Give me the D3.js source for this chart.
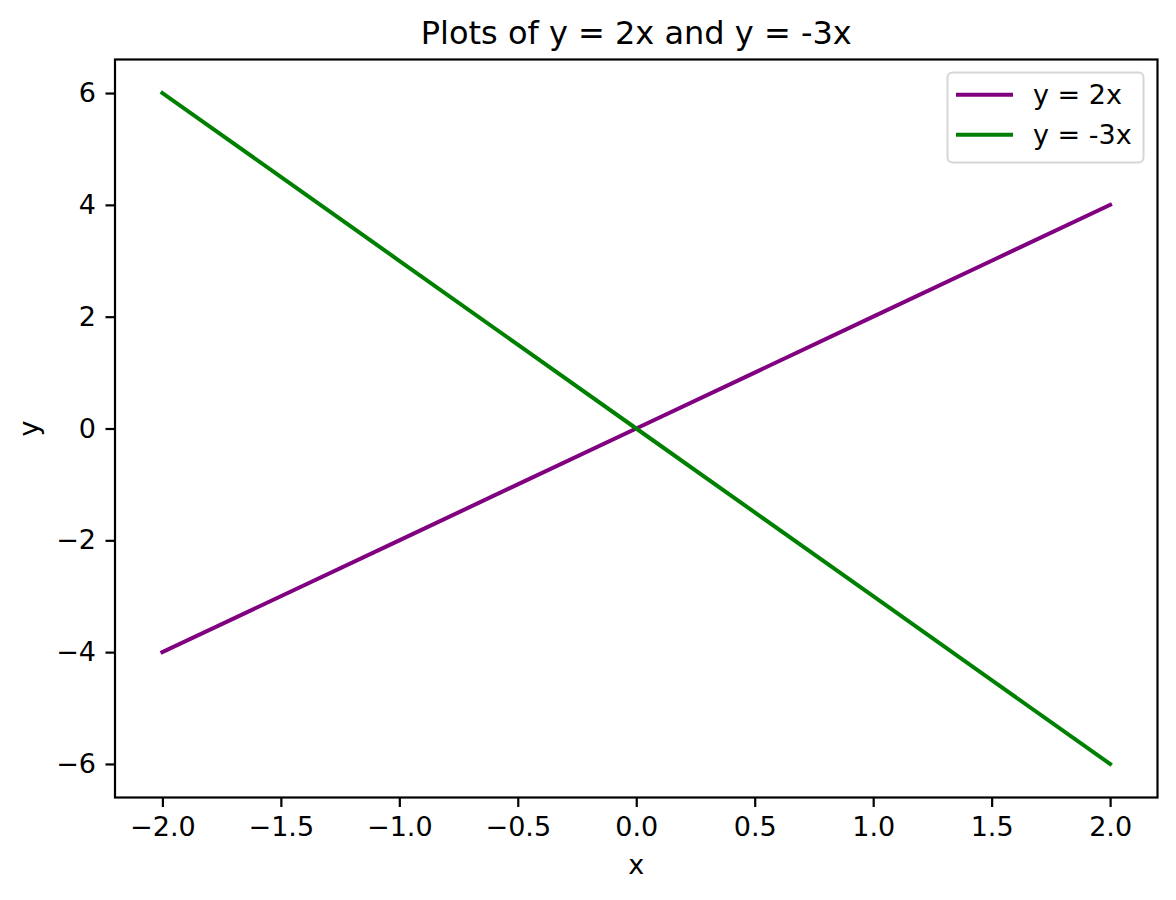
<!DOCTYPE html>
<html><head><meta charset="utf-8">
<script src="https://cdn.jsdelivr.net/npm/d3@7"></script>
<style>body{margin:0;background:#fff}text{font-family:"DejaVu Sans",sans-serif}</style>
</head><body><svg id="c" width="1176" height="900"></svg>
<script>
const xs = [-2, -1.5, -1, -0.5, 0, 0.5, 1, 1.5, 2];
const y1 = [-4, -3, -2, -1, 0, 1, 2, 3, 4];
const y2 = [6, 4.5, 3, 1.5, 0, -1.5, -3, -4.5, -6];
const xTicks = [-2, -1.5, -1, -0.5, 0, 0.5, 1, 1.5, 2];
const yTicks = [-6, -4, -2, 0, 2, 4, 6];
const seriesNames = ["y = 2x", "y = -3x"];
const seriesColors = ["#800080", "#008000"];

const svg = d3.select("#c");
const L = 115, R = 1157.5, T = 59.5, B = 797.5;
const FS = 27;
const x = d3.scaleLinear().domain([-2.2, 2.2]).range([L, R]);
const y = d3.scaleLinear().domain([-6.6, 6.6]).range([B, T]);
const fmtMinus = v => (v < 0 ? "\u2212" : "") + Math.abs(v);

const xAxis = d3.axisBottom(x).tickValues(xTicks).tickSize(9.5).tickPadding(9.5)
  .tickFormat(v => (v < 0 ? "\u2212" : "") + Math.abs(v).toFixed(1));
const yAxis = d3.axisLeft(y).tickValues(yTicks).tickSize(9.5).tickPadding(9.5).tickFormat(fmtMinus);

const gx = svg.append("g").attr("transform", `translate(0,${B})`).call(xAxis);
const gy = svg.append("g").attr("transform", `translate(${L},0)`).call(yAxis);
[gx, gy].forEach(g => {
  g.attr("font-size", FS).attr("font-family", "DejaVu Sans");
  g.select(".domain").remove();
  g.selectAll("line").attr("stroke", "#000").attr("stroke-width", 2.2);
  g.selectAll("text").attr("font-size", FS).attr("fill", "#000");
});

const line = d3.line().x(d => x(d[0])).y(d => y(d[1]));
[y1, y2].forEach((ys, i) => {
  svg.append("path").datum(xs.map((v, j) => [v, ys[j]]))
    .attr("d", line).attr("fill", "none").attr("stroke", seriesColors[i])
    .attr("stroke-width", 4).attr("stroke-linecap", "square");
});

svg.append("rect").attr("x", L).attr("y", T).attr("width", R - L).attr("height", B - T)
  .attr("fill", "none").attr("stroke", "#000").attr("stroke-width", 2.2);

svg.append("text").attr("x", (L + R) / 2).attr("y", 44.3).attr("text-anchor", "middle")
  .attr("font-size", 32).text("Plots of y = 2x and y = -3x");
svg.append("text").attr("x", (L + R) / 2).attr("y", 874.3).attr("text-anchor", "middle")
  .attr("font-size", FS).text("x");
svg.append("text").attr("transform", `translate(38,${(T + B) / 2}) rotate(-90)`)
  .attr("text-anchor", "middle").attr("font-size", FS).text("y");

const lg = svg.append("g");
lg.append("rect").attr("x", 947.5).attr("y", 72.5).attr("width", 196).attr("height", 90)
  .attr("rx", 5).attr("fill", "#fff").attr("fill-opacity", 0.8).attr("stroke", "#d6d6d6").attr("stroke-width", 2);
seriesNames.forEach((n, i) => {
  const yy = 94.7 + i * 40;
  lg.append("line").attr("x1", 956).attr("x2", 1013).attr("y1", yy).attr("y2", yy)
    .attr("stroke", seriesColors[i]).attr("stroke-width", 4);
  lg.append("text").attr("x", 1033).attr("y", 104.3 + i * 40).attr("font-size", FS).text(n);
});
</script></body></html>
